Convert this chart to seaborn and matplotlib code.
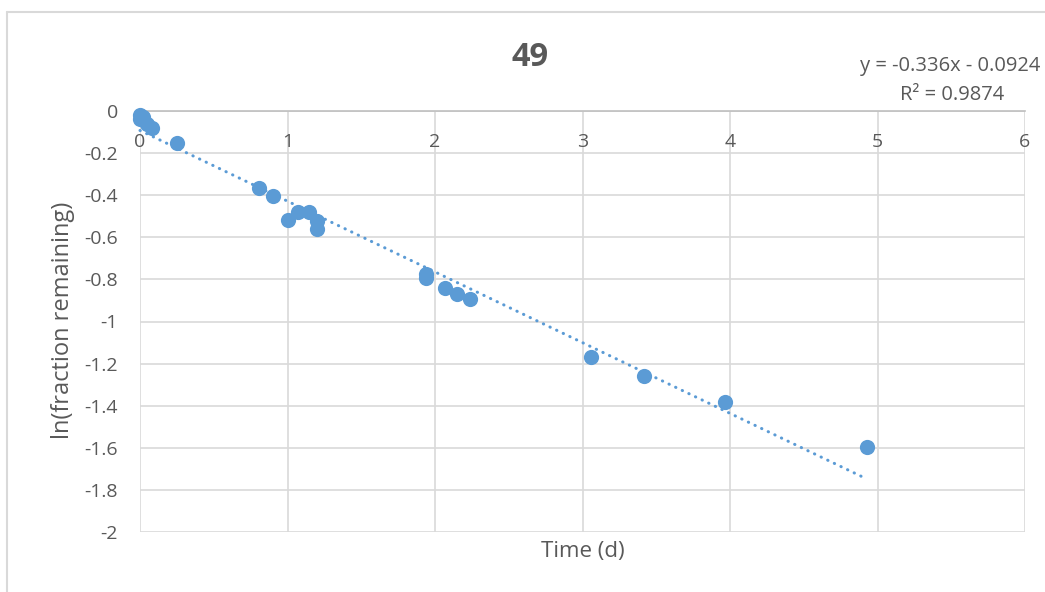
import matplotlib
matplotlib.use("Agg")
import matplotlib.pyplot as plt
from matplotlib.lines import Line2D
import numpy as np
import seaborn as sns

# data
time_d = [0.0, 0.0, 0.02, 0.05, 0.08, 0.25,
          0.81, 0.90, 1.00, 1.07, 1.146, 1.198, 1.198,
          1.937, 1.937, 2.07, 2.147, 2.24,
          3.06, 3.42, 3.966, 4.93]
ln_frac = [-0.02, -0.04, -0.03, -0.06, -0.08, -0.15,
           -0.365, -0.405, -0.516, -0.482, -0.482, -0.524, -0.562,
           -0.772, -0.795, -0.84, -0.871, -0.892,
           -1.167, -1.257, -1.384, -1.594]
slope = -0.336
intercept = -0.0924
r_squared = 0.9874
x_ticks = [0, 1, 2, 3, 4, 5, 6]
y_ticks = [0, -0.2, -0.4, -0.6, -0.8, -1, -1.2, -1.4, -1.6, -1.8, -2]
y_tick_labels = ["0", "-0.2", "-0.4", "-0.6", "-0.8", "-1", "-1.2", "-1.4", "-1.6", "-1.8", "-2"]

blue = "#5B9BD5"
text_gray = "#595959"
grid_gray = "#D9D9D9"

sns.set_theme(style="white")
plt.rcParams["font.family"] = ["Open Sans", "DejaVu Sans"]

fig = plt.figure(figsize=(10.45, 5.92), dpi=100)
ax = fig.add_axes([140 / 1045, 1 - 532 / 592, 885 / 1045, 421 / 592])

sns.scatterplot(x=time_d, y=ln_frac, ax=ax, s=120, color=blue, linewidth=0,
                zorder=3, clip_on=False)

# linear trendline over the data range
trend_x = np.array([min(time_d), max(time_d)])
ax.plot(trend_x, slope * trend_x + intercept, color=blue, lw=2.2,
        linestyle=(0, (0.1, 2.3)), dash_capstyle="round", zorder=2, clip_on=False)

ax.set_xlim(0, 6)
ax.set_ylim(-2, 0)
ax.set_xticks(x_ticks)
ax.set_xticklabels([str(t) for t in x_ticks])
ax.set_yticks(y_ticks)
ax.set_yticklabels(y_tick_labels)
ax.grid(True, color=grid_gray, lw=1.2)
ax.set_axisbelow(True)

for side in ["top", "right", "left"]:
    ax.spines[side].set_visible(False)
ax.spines["bottom"].set_position(("data", 0))
ax.spines["bottom"].set_color("#BFBFBF")
ax.spines["bottom"].set_linewidth(1.2)

ax.tick_params(axis="x", length=0, pad=16, labelsize=14, labelcolor=text_gray)
ax.tick_params(axis="y", length=0, pad=16, labelsize=14, labelcolor=text_gray)
ax.set_xlabel("")
ax.set_ylabel("")

fig.text(582.5 / 1045, 1 - 552 / 592, "Time (d)", ha="center", va="center",
         fontsize=16, color=text_gray)
fig.text(63 / 1045, 1 - 320 / 592, "ln(fraction remaining)", ha="center", va="center",
         rotation=90, fontsize=17, color=text_gray)
fig.text(530 / 1045, 1 - 57 / 592, "49", ha="center", va="center",
         fontsize=23.5, fontweight="bold", color=text_gray)
# trendline equation, kept just inside the right edge
fig.text(1040 / 1045, 1 - 66 / 592, f"y = {slope}x - {abs(intercept)}",
         ha="right", va="center", fontsize=14.5, color=text_gray)
fig.text(952 / 1045, 1 - 95 / 592, f"R² = {r_squared}",
         ha="center", va="center", fontsize=14.5, color=text_gray)

# chart area border
fig.add_artist(Line2D([7 / 1045, 7 / 1045], [0, 1 - 12 / 592], transform=fig.transFigure,
                      color=grid_gray, lw=1.5))
fig.add_artist(Line2D([7 / 1045, 1], [1 - 12 / 592, 1 - 12 / 592], transform=fig.transFigure,
                      color=grid_gray, lw=1.5))

fig.savefig("out.png", dpi=100)
